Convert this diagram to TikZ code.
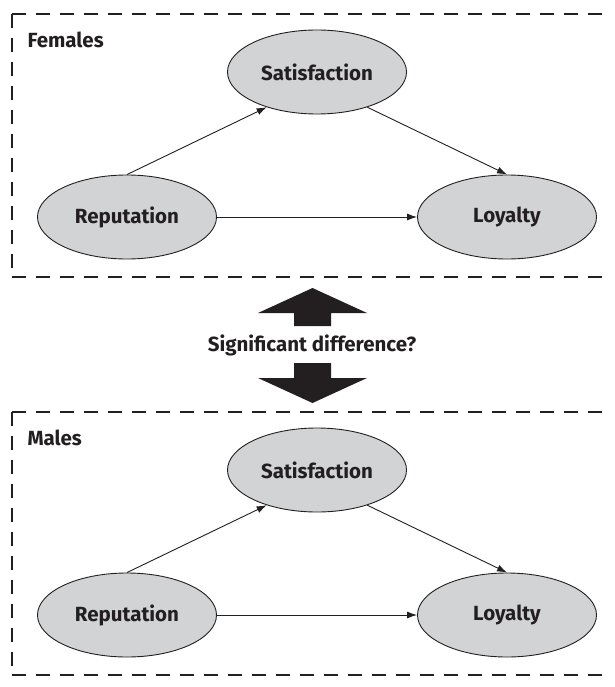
\documentclass[tikz,border=0pt]{standalone}
\usepackage{fontspec}
\setmainfont{Fira Sans}
\usetikzlibrary{shapes.geometric, arrows.meta}
\tikzset{>=latex}
\definecolor{mygray}{RGB}{209,211,212}
\definecolor{myblack}{RGB}{35,31,32}
\tikzset{ % styles for the construct ellipses, group boxes and arrows
  construct/.style={ellipse,draw=myblack,line width=0.9pt,fill=mygray,inner sep=0,
    minimum width=179pt,minimum height=84pt,text=myblack,
    font=\bfseries\fontsize{20.5}{24}\selectfont},
  group label/.style={anchor=west,text=myblack,font=\bfseries\fontsize{20.5}{24}\selectfont},
  group box/.style={draw=myblack,line width=2.5pt,dash pattern=on 14pt off 10pt},
  path arrow/.style={-{Latex[length=10pt,width=7pt]},draw=myblack,line width=0.9pt},
  block arrow/.style={fill=myblack}
}

\begin{document}
\begin{tikzpicture}[x=1pt,y=-1pt]
\useasboundingbox (0,0) rectangle (614,687);

\foreach\g/\dy/\lbl in {f/0/Females,m/398/Males}
{
  % dashed group box, open on the right
  \draw[group box] (12,14+\dy) -- (612,14+\dy);
  \draw[group box] (12,14+\dy) -- (12,277+\dy);
  \draw[group box] (12,277+\dy) -- (612,277+\dy);
  \node[group label] (lab\g) at (24,40+\dy) {\lbl};

  \node[construct] (sat\g) at (317,72+\dy)  {Satisfaction};
  \node[construct] (rep\g) at (127,217+\dy) {Reputation};
  \node[construct] (loy\g) at (507,217+\dy) {Loyalty};

  \draw[path arrow] (rep\g.north) -- (sat\g.215);
  \draw[path arrow] (sat\g.325)  -- (loy\g.north);
  \draw[path arrow] (rep\g) -- (loy\g);
}

% comparison between the groups
\fill[block arrow] (294,326) -- (294,313) -- (258,313) -- (312.5,288)
  -- (367,313) -- (331,313) -- (331,326) -- cycle;
\fill[block arrow] (294,363) -- (294,378) -- (258,378) -- (312.5,403)
  -- (367,378) -- (331,378) -- (331,363) -- cycle;
\node[text=myblack,font=\bfseries\fontsize{20.5}{24}\selectfont] (diff) at (312,345) {Significant difference?};
\end{tikzpicture}
\end{document}
